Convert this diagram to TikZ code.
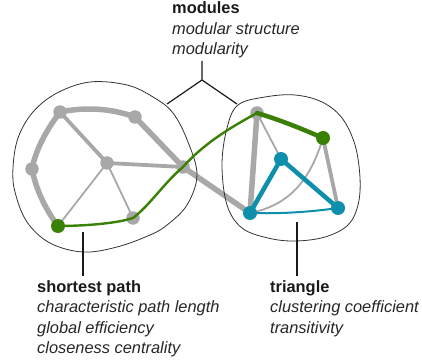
\documentclass[tikz,border=0pt]{standalone}
\usepackage{fontspec}
\setmainfont{Liberation Sans}
\begin{document}
\begin{tikzpicture}[x=1pt,y=-1pt,
  edgecol/.style={draw=netgray,line cap=round},
  thickedge/.style={edgecol,line width=5.5pt},
  midedge/.style={edgecol,line width=3.8pt},
  thinedge/.style={edgecol,line width=1.8pt},
  vtx/.style={circle,fill=netgray,inner sep=0pt,minimum size=13.5pt},
  gvtx/.style={circle,fill=pathgreen,inner sep=0pt,minimum size=14pt},
  tvtx/.style={circle,fill=triteal,inner sep=0pt,minimum size=14pt},
  blob/.style={draw=black!80,line width=0.8pt},
  leader/.style={draw=black!90,line width=1.2pt},
  head/.style={anchor=base west,inner sep=0pt,font=\fontsize{16.4}{20}\selectfont\bfseries,text=black!90},
  sub/.style={anchor=base west,inner sep=0pt,font=\fontsize{16.4}{20}\selectfont\itshape,text=black!85}]
\definecolor{netgray}{RGB}{168,168,168}
\definecolor{pathgreen}{RGB}{58,128,6}
\definecolor{triteal}{RGB}{14,143,172}
\useasboundingbox (0,0) rectangle (422,363);

% vertices of the left module
\coordinate (A) at (60,112);
\coordinate (B) at (135,117);
\coordinate (C) at (32,169);
\coordinate (D) at (107,163);
\coordinate (E) at (183,167);
\coordinate (F) at (133,218);
\coordinate (G) at (58,226);
% vertices of the right module
\coordinate (H) at (257,113);
\coordinate (I) at (323,138);
\coordinate (J) at (281,159);
\coordinate (K) at (250,213);
\coordinate (L) at (338,208);

% gray edges
\draw[thickedge] (A) .. controls (85,107) and (110,108) .. (B);
\draw[thickedge] (A) .. controls (48,128) and (36,148) .. (C);
\draw[thickedge] (C) .. controls (36,190) and (46,210) .. (G);
\draw[thickedge] (B) -- (E);
\draw[midedge] (A) -- (D);
\draw[midedge] (D) -- (E);
\draw[thinedge] (D) -- (G);
\draw[thinedge] (D) -- (F);
\draw[thickedge] (E) -- (K);
\draw[thickedge] (H) -- (K);
\draw[thinedge] (H) -- (J);
\draw[midedge] (I) -- (L);
\draw[thinedge] (I) .. controls (310,180) and (290,205) .. (K);

% gray vertices
\foreach \v in {A,B,C,D,E,F,H}
  \node[vtx] (n\v) at (\v) {};

% module outlines
\draw[blob] plot[smooth cycle,tension=0.6] coordinates {
  (90,82) (127,85) (153,97) (173,113) (188,142) (197,175) (187,205)
  (167,225) (150,235) (117,247) (83,252) (50,243) (27,222) (15,192)
  (13,168) (18,138) (33,112) (57,93)};
\draw[blob] plot[smooth cycle,tension=0.6] coordinates {
  (295,95) (322,102) (342,118) (355,145) (360,178) (358,205) (348,225)
  (325,237) (295,241) (268,238) (242,228) (227,205) (222,165) (227,128)
  (238,105) (265,97)};

% shortest path
\draw[draw=pathgreen,line width=2.4pt,line cap=round] (G)
  .. controls (80,226) and (115,224) .. (F)
  .. controls (150,205) and (165,182) .. (E)
  .. controls (205,142) and (235,125) .. (H);
\draw[draw=pathgreen,line width=4.5pt,line cap=round] (H) .. controls (280,120) and (300,128) .. (I);

% triangle
\draw[draw=triteal,line width=2pt] (K) .. controls (280,214) and (310,212) .. (L);
\draw[draw=triteal,line width=4.5pt,line cap=round] (K) -- (J) -- (L);

% coloured vertices
\node[gvtx] (nG) at (G) {};
\node[gvtx] (nI) at (I) {};
\node[tvtx] (nJ) at (J) {};
\node[tvtx] (nK) at (K) {};
\node[tvtx] (nL) at (L) {};

% leader lines
\coordinate (modtop) at (202,61);
\coordinate (modfork) at (202,80);
\coordinate (modleft) at (167,104);
\coordinate (modright) at (237,104);
\draw[leader] (modtop) -- (modfork) -- (modleft);
\draw[leader] (modfork) -- (modright);
\coordinate (sptop) at (83,232);
\coordinate (spbot) at (83,276);
\draw[leader] (sptop) -- (spbot);
\coordinate (trtop) at (297,222);
\coordinate (trbot) at (297,276);
\draw[leader] (trtop) -- (trbot);

% labels
\node[head] (modhead) at (172,14) {modules};
\node[sub] (mod1) at (172,34.5) {modular structure};
\node[sub] (mod2) at (172,54.5) {modularity};
\node[head] (sphead) at (37,292.3) {shortest path};
\node[sub] (sp1) at (37,312.7) {characteristic path length};
\node[sub] (sp2) at (37,333.2) {global efficiency};
\node[sub] (sp3) at (37,353.5) {closeness centrality};
\node[head] (trhead) at (270,292.3) {triangle};
\node[sub] (tr1) at (270,312.7) {clustering coefficient};
\node[sub] (tr2) at (270,333.2) {transitivity};
\end{tikzpicture}
\end{document}
